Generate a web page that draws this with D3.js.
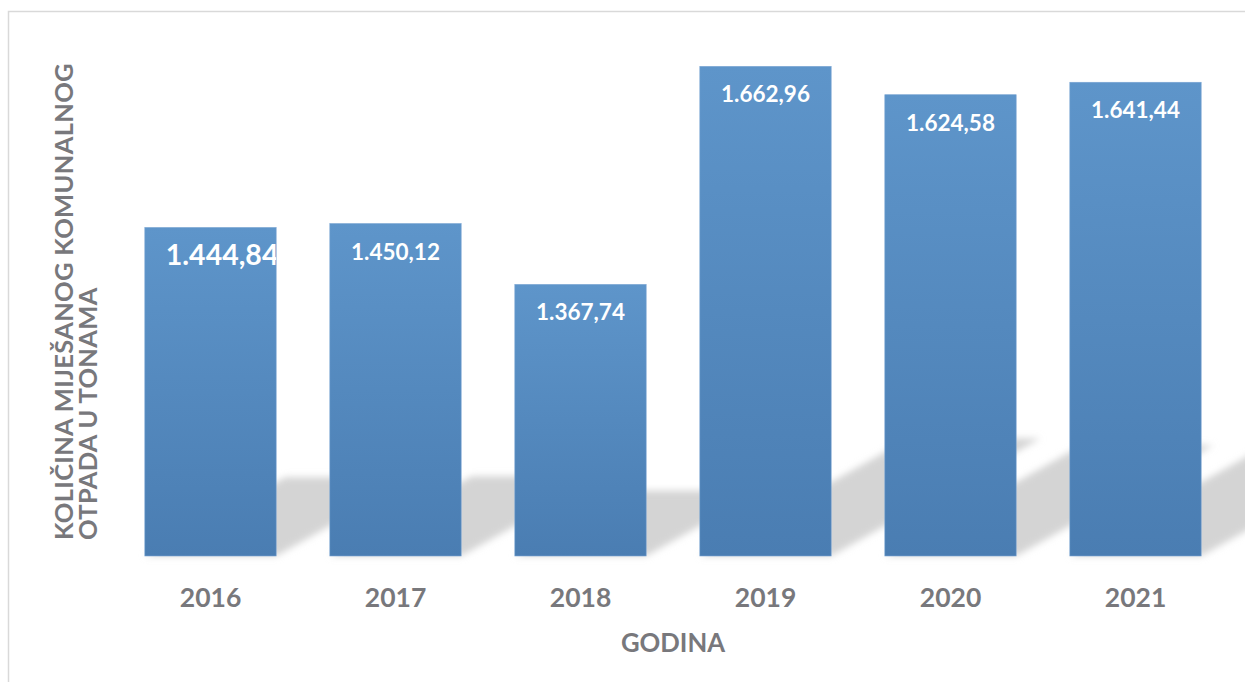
<!DOCTYPE html>
<html>
<head>
<meta charset="utf-8">
<script src="https://cdn.jsdelivr.net/npm/d3@7"></script>
<style>
  body { margin: 0; background: #fff; }
  svg text { font-family: Lato, "Open Sans", sans-serif; font-weight: bold; }
</style>
</head>
<body>
<svg id="chart"></svg>
<script>
// chart data
var years = ['2016', '2017', '2018', '2019', '2020', '2021'];
var amounts = [1444.84, 1450.12, 1367.74, 1662.96, 1624.58, 1641.44];
var amountLabels = ['1.444,84', '1.450,12', '1.367,74', '1.662,96', '1.624,58', '1.641,44'];
var yTitle = ['KOLIČINA MIJEŠANOG KOMUNALNOG', 'OTPADA U TONAMA'];
var xTitle = 'GODINA';

var W = 1245, H = 682;
var margin = {top: 39, right: 17, bottom: 126, left: 118},
    width = W - margin.left - margin.right,
    height = H - margin.top - margin.bottom;

var svg = d3.select('#chart').attr('width', W).attr('height', H);

// outer frame
svg.append('rect')
    .attr('x', 8.5).attr('y', 11.5)
    .attr('width', W + 20).attr('height', H + 20)
    .attr('fill', 'none').attr('stroke', '#d9d9d9').attr('stroke-width', 1.5);

var defs = svg.append('defs');
var grad = defs.append('linearGradient').attr('id', 'barGrad')
    .attr('x1', 0).attr('y1', 0).attr('x2', 0).attr('y2', 1);
grad.append('stop').attr('offset', '0%').attr('stop-color', '#5e95ca');
grad.append('stop').attr('offset', '100%').attr('stop-color', '#4a7db2');

defs.append('filter').attr('id', 'blur')
    .attr('x', '-20%').attr('y', '-20%').attr('width', '140%').attr('height', '140%')
  .append('feGaussianBlur').attr('stdDeviation', 3.5);

var x = d3.scaleBand()
    .domain(years)
    .range([0, width])
    .paddingInner(0.29)
    .paddingOuter(0.145);

var y = d3.scaleLinear()
    .domain([1000, 1700])
    .range([height, 0]);

var g = svg.append('g')
    .attr('transform', 'translate(' + margin.left + ',' + margin.top + ')');

// perspective shadow, leaning to the upper right
var shadowScale = 0.24, shadowSkew = 1.78;
g.append('g').attr('filter', 'url(#blur)')
  .selectAll('path')
  .data(years)
  .enter().append('path')
    .attr('fill', '#d4d4d4')
    .attr('d', function(d, i) {
      var x0 = x(d), x1 = x(d) + x.bandwidth();
      var h = (height - y(amounts[i])) * shadowScale;
      var dx = h * shadowSkew;
      return 'M' + x0 + ',' + height + 'L' + x1 + ',' + height +
             'L' + (x1 + dx) + ',' + (height - h) + 'L' + (x0 + dx) + ',' + (height - h) + 'Z';
    });

// bars
g.selectAll('rect.bar')
    .data(years)
  .enter().append('rect')
    .attr('class', 'bar')
    .attr('x', function(d) { return x(d); })
    .attr('y', function(d, i) { return y(amounts[i]); })
    .attr('width', x.bandwidth())
    .attr('height', function(d, i) { return height - y(amounts[i]); })
    .attr('fill', 'url(#barGrad)')
    .attr('stroke', '#7aa5d3').attr('stroke-width', 0.6);

// clip for the oversized first label
defs.append('clipPath').attr('id', 'clipFirst')
  .append('rect')
    .attr('x', x(years[0])).attr('y', y(amounts[0]))
    .attr('width', x.bandwidth()).attr('height', height - y(amounts[0]));

// value labels
g.selectAll('text.val')
    .data(years)
  .enter().append('text')
    .attr('class', 'val')
    .attr('fill', '#fff')
    .attr('clip-path', function(d, i) { return i === 0 ? 'url(#clipFirst)' : null; })
    .attr('text-anchor', function(d, i) { return i === 0 ? 'start' : 'middle'; })
    .attr('font-size', function(d, i) { return i === 0 ? 28.5 : 22.5; })
    .attr('x', function(d, i) { return i === 0 ? x(d) + 21 : x(d) + x.bandwidth() / 2; })
    .attr('y', function(d, i) { return y(amounts[i]) + (i === 0 ? 38 : 36); })
    .text(function(d, i) { return amountLabels[i]; });

// x axis
var xAxis = d3.axisBottom(x).tickSize(0).tickPadding(0);
var ax = g.append('g')
    .attr('transform', 'translate(0,' + height + ')')
    .call(xAxis);
ax.select('.domain').remove();
ax.selectAll('text')
    .attr('dy', null)
    .attr('y', 51)
    .attr('fill', '#78787c')
    .attr('font-size', 26.5)
    .style('font-family', 'Lato, sans-serif')
    .style('font-weight', 'bold');

// axis titles
g.append('text')
    .attr('x', width / 2).attr('y', height + 96)
    .attr('text-anchor', 'middle')
    .attr('fill', '#78787c')
    .attr('font-size', 25.7)
    .text(xTitle);

svg.selectAll('text.ytitle')
    .data(yTitle)
  .enter().append('text')
    .attr('class', 'ytitle')
    .attr('transform', function(d, i) { return 'translate(' + (73 + i * 24) + ',540) rotate(-90)'; })
    .attr('text-anchor', 'start')
    .attr('fill', '#78787c')
    .attr('font-size', 25.5)
    .style('letter-spacing', '0.3px')
    .text(function(d) { return d; });
</script>
</body>
</html>
